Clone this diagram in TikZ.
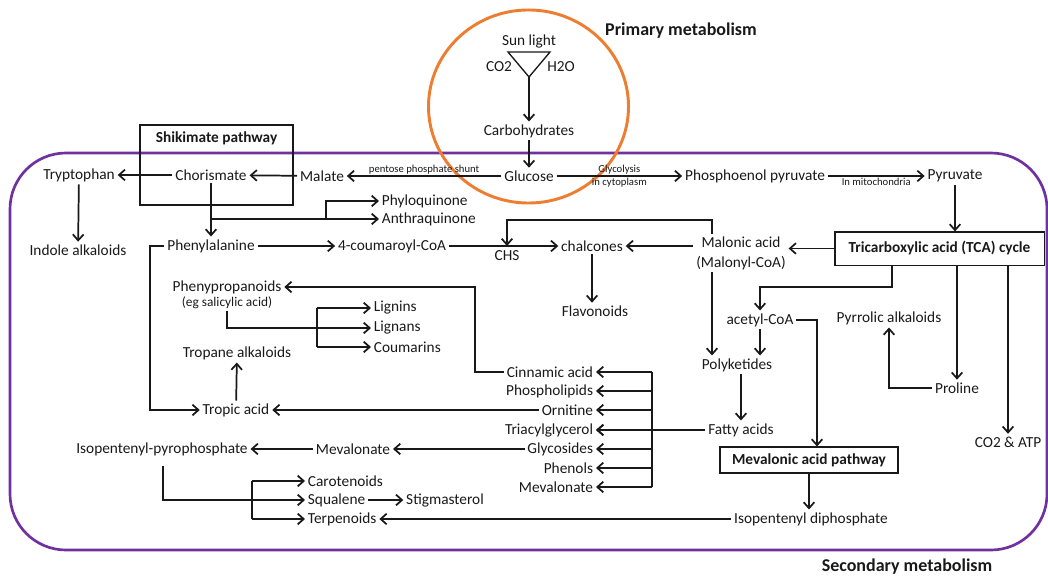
\documentclass[tikz,border=0pt]{standalone}
\usepackage{fontspec}
\setmainfont{Carlito}
\usetikzlibrary{arrows.meta,calc}
\definecolor{sunorange}{RGB}{237,125,49}
\definecolor{secpurple}{RGB}{112,48,160}
\definecolor{ink}{RGB}{25,25,25}

\tikzset{
  txt/.style={inner sep=2pt, text=ink, font=\fontsize{11.5}{15}\selectfont},
  note/.style={inner sep=1pt, text=ink, font=\fontsize{8}{9}\selectfont},
  pathbox/.style={draw=ink, line width=0.8pt, inner sep=3pt, text=ink, font=\bfseries\fontsize{11.5}{14}\selectfont},
  title/.style={text=ink, font=\bfseries\fontsize{13.5}{16}\selectfont},
  flow/.style={-{Straight Barb[length=4.5pt,width=8pt]}, line width=1.3pt, draw=ink},
  link/.style={line width=1.3pt, draw=ink},
}

\begin{document}
\begin{tikzpicture}[x=0.75pt,y=-0.75pt]
\useasboundingbox (0,0) rectangle (1048,577);
% frames
\draw[secpurple, line width=2pt, rounded corners=42pt] (10,153) rectangle (1047,550);
\draw[sunorange, line width=2.2pt] (528.5,106.5) ellipse [x radius=75pt, y radius=72.4pt];
\node (prim) [title] at (681,31) {Primary metabolism};
\node (sec) [title] at (907,567) {Secondary metabolism};

% photosynthesis
\node (sun) [txt] at (529,41) {Sun light};
\node (co2) [txt] at (499,67) {CO2};
\node (h2o) [txt] at (561,67) {H2O};
\draw[link, line width=1pt] (508,52) -- (550,52) -- (529,77) -- cycle;
\coordinate (vtx) at (529,77);
\node (carb) [txt] at (529,131) {Carbohydrates};
\node (gluc) [txt] at (529,176) {Glucose};

% shikimate side
\node (shik) [draw=ink, line width=0.8pt, minimum width=114.75pt, minimum height=60pt] at (216.5,165) {};
\node (shiktitle) [pathbox, draw=none, anchor=north, inner sep=5pt] at (shik.north) {Shikimate pathway};
\node (malate) [txt] at (322,176) {Malate};
\node (chor) [txt] at (211,175) {Chorismate};
\node (tryp) [txt] at (79,175) {Tryptophan};
\node (indole) [txt] at (78,250) {Indole alkaloids};
\node (phyl) [txt, anchor=west] at (379,201) {Phyloquinone};
\node (anth) [txt, anchor=west] at (379,219) {Anthraquinone};
\node (phe) [txt] at (211,246) {Phenylalanine};
\node (coum) [txt] at (392,246) {4-coumaroyl-CoA};
\node (chal) [txt] at (592,246) {chalcones};
\node (flav) [txt] at (595,311) {Flavonoids};
\node (pp) [txt] at (227,287) {Phenypropanoids};
\node (ppnote) [note, font=\fontsize{10}{11}\selectfont] at (227,303) {(eg salicylic acid)};
\node (lignins) [txt, anchor=west] at (371,308) {Lignins};
\node (lignans) [txt, anchor=west] at (371,328) {Lignans};
\node (coumarins) [txt, anchor=west] at (371,347) {Coumarins};
\node (tropane) [txt] at (237,353) {Tropane alkaloids};
\node (tropic) [txt] at (236,410) {Tropic acid};

% list fed from fatty acids
\node (cinn) [txt, anchor=east] at (596,372) {Cinnamic acid};
\node (phos) [txt, anchor=east] at (596,391) {Phospholipids};
\node (orn) [txt, anchor=east] at (596,410) {Ornitine};
\node (tri) [txt, anchor=east] at (596,430) {Triacylglycerol};
\node (gly) [txt, anchor=east] at (596,449) {Glycosides};
\node (phen) [txt, anchor=east] at (596,468) {Phenols};
\node (meva2) [txt, anchor=east] at (596,487) {Mevalonate};
\node (mevl) [txt] at (353,449) {Mevalonate};
\node (ipp) [txt] at (162,449) {Isopentenyl-pyrophosphate};
\node (carot) [txt, anchor=west] at (305,481) {Carotenoids};
\node (squal) [txt, anchor=west] at (305,500) {Squalene};
\node (stig) [txt] at (445,500) {Stigmasterol};
\node (terp) [txt, anchor=west] at (305,519) {Terpenoids};

% TCA side
\node (pep) [txt] at (755,176) {Phosphoenol pyruvate};
\node (pyr) [txt] at (955,176) {Pyruvate};
\node (tca) [pathbox, minimum width=156.8pt, minimum height=24.8pt] at (939.5,248.5) {Tricarboxylic acid (TCA) cycle};
\node (mal) [txt, align=center] at (741,253) {Malonic acid\\(Malonyl-CoA)};
\node (acetyl) [txt] at (760,320) {acetyl-CoA};
\node (pk) [txt] at (737,365) {Polyketides};
\node (fatty) [txt] at (741,430) {Fatty acids};
\node (pyrrolic) [txt] at (889,318) {Pyrrolic alkaloids};
\node (proline) [txt] at (957,388) {Proline};
\node (co2atp) [txt] at (1008,442) {CO2 \& ATP};
\node (mevbox) [pathbox, minimum width=133.5pt, minimum height=19.5pt] at (809,460) {Mevalonic acid pathway};
\node (ipd) [txt] at (811,519) {Isopentenyl diphosphate};

% bend points
\coordinate (qbranch) at (326,219);
\coordinate (chs) at (507,246);
\coordinate (malx) at (712,220);
\coordinate (tcax) at (892,287);
\coordinate (barx) at (652,372);
\coordinate (cinnx) at (475,287);
\coordinate (lgx) at (317,328);
\coordinate (phex) at (150,246);
\coordinate (tpx) at (252,481);

% connectors
\draw[flow] (vtx) -- (carb);
\draw[flow] (carb) -- (gluc);
\draw[flow] (gluc) -- (malate) node[note, midway, above] {pentose phosphate shunt};
\draw[flow] (malate) -- (chor);
\draw[flow] (chor) -- (tryp);
\draw[flow] (tryp) -- (indole);
\draw[flow] (chor) -- (phe);
\draw[flow] (chor.south |- anth) -- (anth);
\draw[flow] (qbranch) |- (phyl);
\draw[flow] (gluc) -- (pep) node[note, midway, above] {Glycolysis} node[note, midway, below] {in cytoplasm};
\draw[flow] (pep) -- (pyr) node[note, midway, below] {In mitochondria};
\draw[flow] (pyr) -- (pyr |- tca.north);
\draw[flow] (tca.west) -- (mal.east |- tca.west);
\draw[flow] (mal.west |- chal) -- (chal);
\draw[flow] (phe) -- (coum);
\draw[flow] (coum) -- (chal);
\node (chslbl) [txt] at (507,256) {CHS};
\draw[flow] (malx |- mal.north) -- (malx) -| (chs);
\draw[flow] (malx |- mal.south) -- (malx |- pk.north);
\draw[flow] (chal) -- (chal |- flav.north);
\draw[flow] (tcax |- tca.south) -- (tcax) -| (acetyl);
\draw[flow] (acetyl) -- (acetyl |- pk.north);
\draw[flow] (acetyl) -| ($(mevbox.north)+(8,0)$);
\draw[flow] (pk.south -| fatty) -- (fatty);
\draw[flow] (fatty) -- (tri);
\draw[link] (barx) -- (barx |- meva2);
\foreach \n in {cinn,phos,orn,tri,gly,phen,meva2}
  \draw[flow] (barx |- \n) -- (\n);
\draw[flow] (cinn) -| (cinnx) -- (pp);
\draw[link] (ppnote.south) |- (lgx);
\draw[link] (lgx |- lignins) -- (lgx |- coumarins);
\foreach \n in {lignins,lignans,coumarins}
  \draw[flow] (lgx |- \n) -- (\n);
\draw[flow] (phe) -- (phex) |- (tropic);
\draw[flow] (tropic) -- (tropane);
\draw[flow] (orn) -- (tropic);
\draw[flow] (gly) -- (mevl);
\draw[flow] (mevl) -- (ipp);
\draw[flow] ($(ipp.south)+(1,8)$) |- (squal);
\draw[link] (tpx |- carot) -- (tpx |- terp);
\draw[flow] (tpx |- carot) -- (carot);
\draw[flow] (tpx |- terp) -- (terp);
\draw[flow] (squal) -- (stig);
\draw[flow] (ipd) -- (terp);
\draw[flow] (mevbox) -- (mevbox |- ipd.north);
\draw[flow] (proline.north |- tca.south) -- (proline);
\draw[flow] (co2atp.north |- tca.south) -- (co2atp);
\draw[flow] (proline) -| (pyrrolic);
\end{tikzpicture}
\end{document}
